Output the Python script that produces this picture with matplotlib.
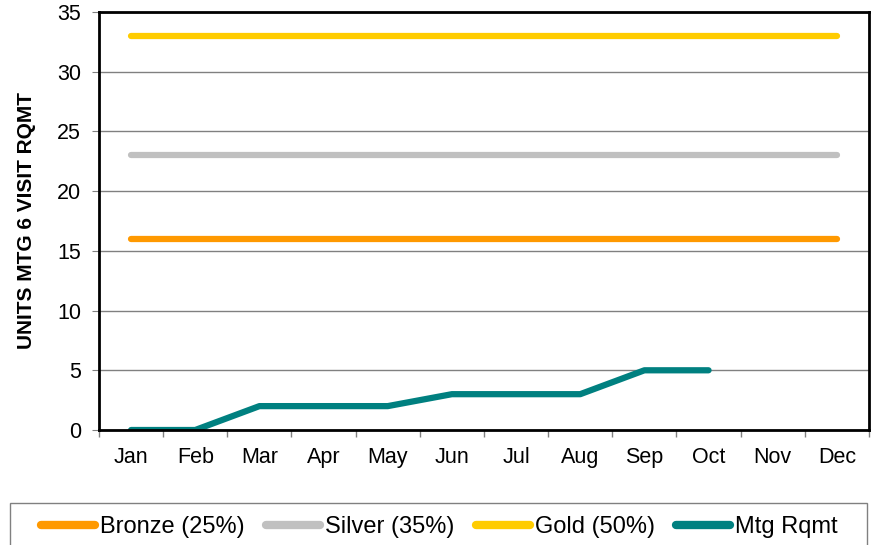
import matplotlib.pyplot as plt
from matplotlib.patches import Rectangle

plt.rcParams['font.family'] = ['Liberation Sans', 'DejaVu Sans']

months = ['Jan', 'Feb', 'Mar', 'Apr', 'May', 'Jun', 'Jul', 'Aug', 'Sep', 'Oct', 'Nov', 'Dec']
bronze = [16] * 12
silver = [23] * 12
gold = [33] * 12
mtg_rqmt = [0, 0, 2, 2, 2, 3, 3, 3, 5, 5]


def main():
    fig = plt.figure(figsize=(8.84, 5.45), dpi=100)
    ax = fig.add_axes([0.112, 0.211, 0.871, 0.767])

    x = list(range(len(months)))
    lw = 4.5
    ax.plot(x, bronze, color='#FF9900', lw=lw, solid_capstyle='round', label='Bronze (25%)')
    ax.plot(x, silver, color='#C0C0C0', lw=lw, solid_capstyle='round', label='Silver (35%)')
    ax.plot(x, gold, color='#FFCC00', lw=lw, solid_capstyle='round', label='Gold (50%)')
    ax.plot(x[:len(mtg_rqmt)], mtg_rqmt, color='#008080', lw=lw,
            solid_capstyle='round', label='Mtg Rqmt')

    ax.set_xlim(-0.5, 11.5)
    ax.set_ylim(0, 35)
    ax.set_yticks(range(0, 36, 5))
    ax.set_xticks(x)
    ax.set_xticklabels(months)
    ax.set_xticks([i - 0.5 for i in range(13)], minor=True)
    ax.tick_params(axis='x', which='major', length=0, pad=12, labelsize=15.5)
    ax.tick_params(axis='x', which='minor', length=5, color='#808080', width=1)
    ax.tick_params(axis='y', length=5, color='#808080', labelsize=15.5, pad=8)
    ax.grid(axis='y', color='#808080', lw=1)
    ax.set_axisbelow(True)
    for s in ax.spines.values():
        s.set_linewidth(2)
        s.set_color('black')
    ax.set_ylabel('UNITS MTG 6 VISIT RQMT', fontsize=15, fontweight='bold', labelpad=15)

    # legend box at the bottom, cut off by the figure edge
    fig.patches.append(Rectangle((10 / 884, -0.02), 857 / 884, (545 - 503) / 545 + 0.02,
                                 transform=fig.transFigure, fill=False,
                                 edgecolor='#808080', lw=1))
    leg = fig.legend(loc='center', bbox_to_anchor=(0.497, 18 / 545), ncol=4, frameon=False,
                     fontsize=17, handlelength=2.3, handletextpad=0.2, columnspacing=0.9,
                     borderaxespad=0)
    for h in leg.get_lines():
        h.set_linewidth(6)
        h.set_solid_capstyle('round')

    fig.savefig('out.png', dpi=100)


if __name__ == '__main__':
    main()
